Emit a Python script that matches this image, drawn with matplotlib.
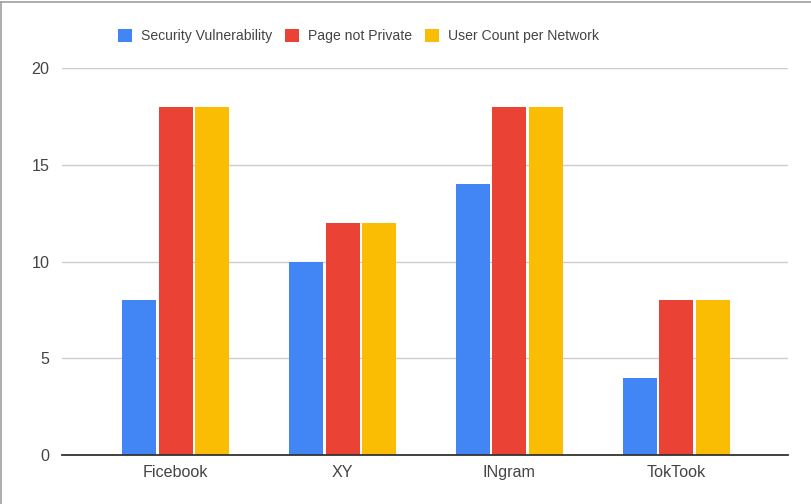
import numpy as np
import matplotlib
matplotlib.use('Agg')
import matplotlib.pyplot as plt
from matplotlib.lines import Line2D

categories = ['Ficebook', 'XY', 'INgram', 'TokTook']
series_names = ['Security Vulnerability', 'Page not Private', 'User Count per Network']
security_vulnerability = [8, 10, 14, 4]
page_not_private = [18, 12, 18, 8]
user_count = [18, 12, 18, 8]
y_ticks = [0, 5, 10, 15, 20]

colors = ['#4285F4', '#EA4335', '#FBBC04']

plt.rcParams['font.family'] = ['Liberation Sans', 'DejaVu Sans']

W, H = 812, 504
fig = plt.figure(figsize=(W / 100, H / 100), dpi=100)
ax = fig.add_axes([62 / W, (H - 455) / H, (788 - 62) / W, (455 - 68) / H])

x = np.arange(len(categories))
step = 0.2186
width = 0.204
for i, (vals, name) in enumerate(zip([security_vulnerability, page_not_private, user_count], series_names)):
    ax.bar(x + (i - 1) * step, vals, width, color=colors[i], label=name, zorder=3)

ax.set_xlim(-0.682, 3.671)
ax.set_ylim(0, 20)
ax.set_yticks(y_ticks)
ax.set_xticks(x)
ax.set_xticklabels(categories)
ax.grid(axis='y', color='#cccccc', linewidth=1, zorder=0)
ax.tick_params(axis='both', length=0, labelsize=11.6, colors='#444444')
ax.tick_params(axis='x', pad=7)
ax.tick_params(axis='y', pad=9)
for s in ['top', 'right', 'left']:
    ax.spines[s].set_visible(False)
ax.spines['bottom'].set_color('#333333')
ax.spines['bottom'].set_linewidth(1.3)
ax.spines['bottom'].set_zorder(4)

handles, labels = ax.get_legend_handles_labels()
leg = fig.legend(handles, labels, loc='center', bbox_to_anchor=(358.5 / W, 1 - 36 / H), ncol=3,
                 frameon=False, fontsize=10.1, handlelength=1.0, handleheight=1.1,
                 handletextpad=0.6, columnspacing=0.95, labelcolor='#444444')

# outer frame of the screenshot
fig.add_artist(Line2D([1.5 / W, 1.5 / W], [0, 1 - 2 / H], color='#9e9e9e', linewidth=1.2))
fig.add_artist(Line2D([1.5 / W, 1], [1 - 2 / H, 1 - 2 / H], color='#9e9e9e', linewidth=1.2))

fig.savefig('out.png', dpi=100)
